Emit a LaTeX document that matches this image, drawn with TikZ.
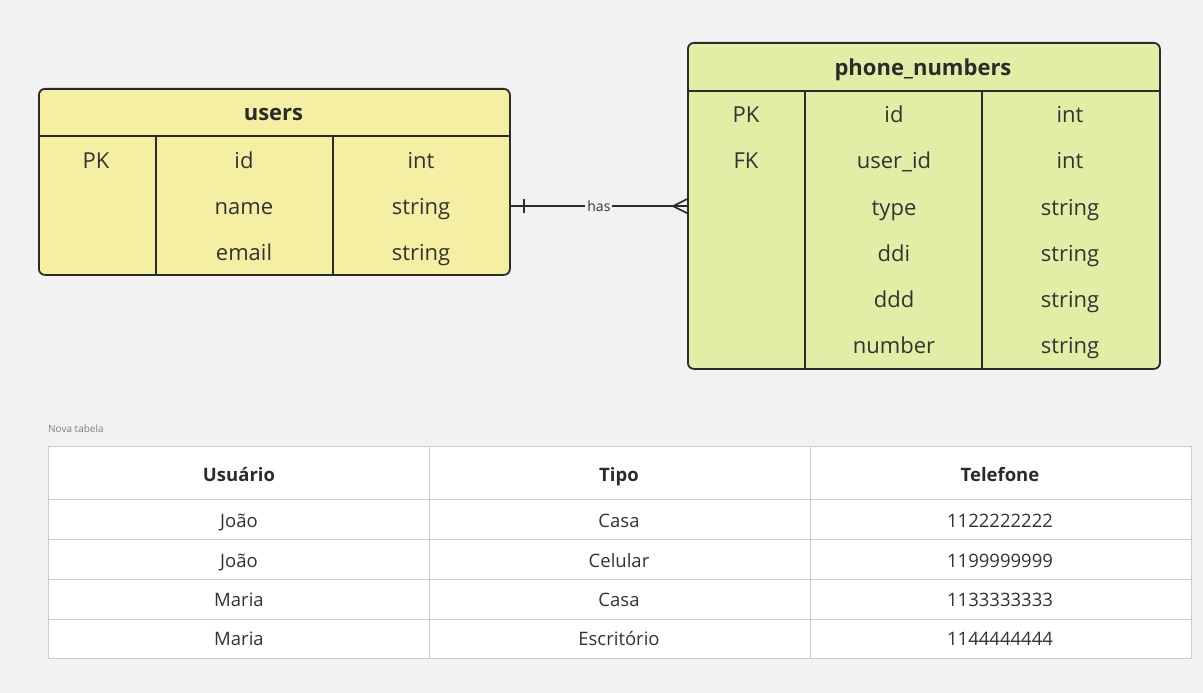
\documentclass[tikz,border=0pt]{standalone}
\usepackage{fontspec}
\setmainfont{Open Sans}
\usetikzlibrary{positioning}
\definecolor{canvas}{HTML}{F2F2F2}
\definecolor{userfill}{HTML}{F5EFA3}
\definecolor{phonefill}{HTML}{E4EDA5}
\definecolor{edge}{HTML}{2B2B2B}
\definecolor{cellline}{HTML}{CDCDCD}
\definecolor{ink}{HTML}{333333}

\begin{document}
\begin{tikzpicture}[x=1pt,y=-1pt,
    entity/.style={draw=edge,line width=1.8pt,rounded corners=6pt,inner sep=0pt,anchor=north west},
    rule/.style={draw=edge,line width=1.8pt},
    title/.style={font=\fontsize{22}{26}\selectfont\bfseries,text=edge,anchor=base},
    field/.style={font=\fontsize{22}{26}\selectfont,text=ink,anchor=base},
    head/.style={font=\fontsize{18.5}{22}\selectfont\bfseries,text=edge,anchor=base},
    cell/.style={font=\fontsize{18.5}{22}\selectfont,text=ink,anchor=base},
    cellrule/.style={draw=cellline,line width=0.8pt}]

    % Canvas
    \fill[canvas] (0,0) rectangle (1203,693);
    \useasboundingbox (0,0) rectangle (1203,693);

    % users entity
    \node[entity,fill=userfill,minimum width=471pt,minimum height=186pt] (users) at (38,88) {};
    \draw[rule] (38,136) -- (509,136);
    \draw[rule] (156,136) -- (156,274);
    \draw[rule] (333,136) -- (333,274);
    \node[title] (users-title) at (273.5,121) {users};
    \foreach \y/\k/\f/\t [count=\i] in {168/PK/id/int, 214//name/string, 260//email/string} {
        \node[field] (u-key-\i) at (96,\y) {\k};
        \node[field] (u-name-\i) at (244,\y) {\f};
        \node[field] (u-type-\i) at (421,\y) {\t};
    }

    % phone_numbers entity
    \node[entity,fill=phonefill,minimum width=472pt,minimum height=326pt] (phones) at (687,42) {};
    \draw[rule] (687,91) -- (1159,91);
    \draw[rule] (805,91) -- (805,368);
    \draw[rule] (982,91) -- (982,368);
    \node[title] (phones-title) at (923,76) {phone\_numbers};
    \foreach \y/\k/\f/\t [count=\i] in {122.5/PK/id/int, 168.5/FK/user\_id/int, 215//type/string,
                                        261//ddi/string, 307//ddd/string, 353//number/string} {
        \node[field] (p-key-\i) at (746,\y) {\k};
        \node[field] (p-name-\i) at (894,\y) {\f};
        \node[field] (p-type-\i) at (1070,\y) {\t};
    }

    % relation: one user has many phone numbers
    \coordinate (has-a) at ([yshift=2pt]users.east |- u-name-2);
    \coordinate (has-b) at (phones.west |- has-a);
    \draw[edge,line width=1.8pt] (has-a) -- node[fill=canvas,inner sep=2pt,text=ink,
        font=\fontsize{14}{16}\selectfont] (has-label) {has} (has-b);
    \draw[edge,line width=1.8pt] ([xshift=13pt,yshift=7pt]has-a) -- ([xshift=13pt,yshift=-7pt]has-a);
    \draw[edge,line width=1.6pt] ([yshift=7pt]has-b) -- ([xshift=-14pt]has-b) -- ([yshift=-7pt]has-b);

    % result table
    \node[text=black!50,font=\fontsize{10}{12}\selectfont,anchor=base west,inner sep=0pt]
        (result-caption) at (48,432.5) {Nova tabela};
    \node[draw=cellline,fill=white,line width=0.8pt,inner sep=0pt,anchor=north west,
        minimum width=1143pt,minimum height=212pt] (result) at (48,446) {};
    \foreach \y in {499,539,579,619}
        \draw[cellrule] (48,\y) -- (1191,\y);
    \foreach \x in {429,810}
        \draw[cellrule] (\x,446) -- (\x,658);
    \foreach \x/\h [count=\i] in {239/Usuário, 619/Tipo, 1000/Telefone}
        \node[head] (col-\i) at (\x,481) {\h};
    \foreach \y/\u/\c/\n [count=\i] in {527.5/João/Casa/1122222222, 567/João/Celular/1199999999,
                                        606/Maria/Casa/1133333333, 645.5/Maria/Escritório/1144444444} {
        \node[cell] (r-user-\i) at (239,\y) {\u};
        \node[cell] (r-kind-\i) at (619,\y) {\c};
        \node[cell] (r-phone-\i) at (1000,\y) {\n};
    }
\end{tikzpicture}
\end{document}
